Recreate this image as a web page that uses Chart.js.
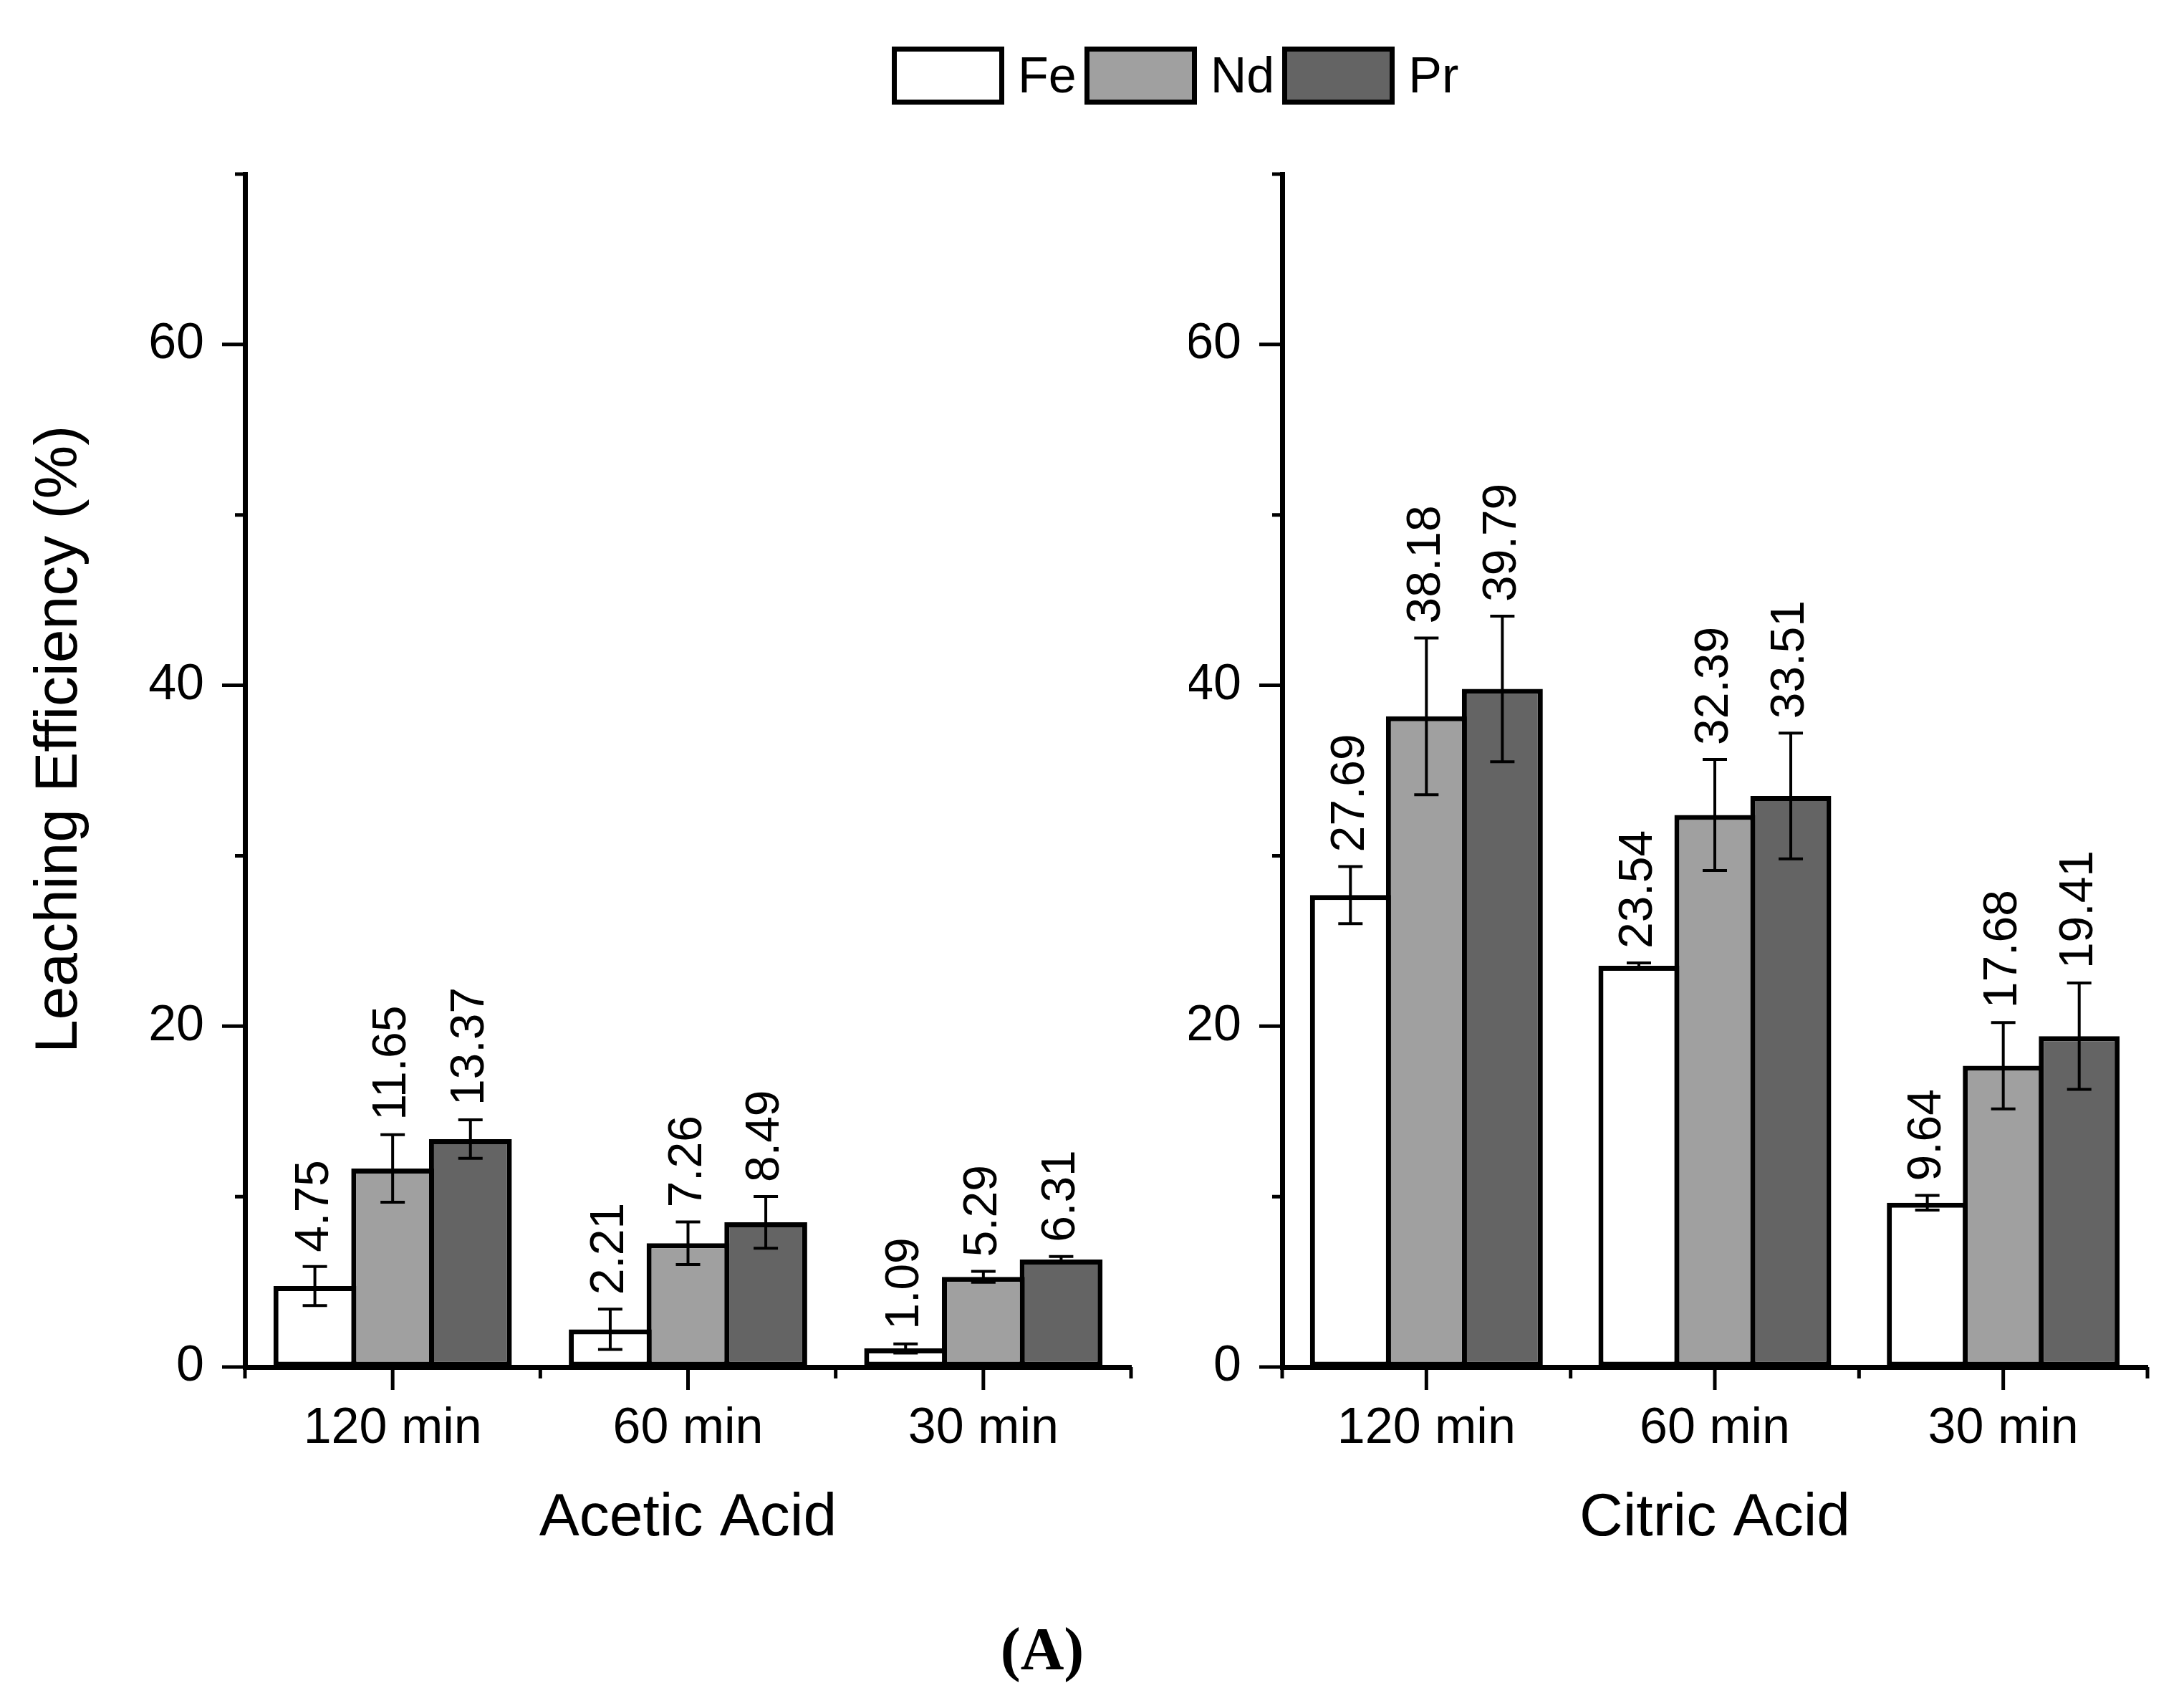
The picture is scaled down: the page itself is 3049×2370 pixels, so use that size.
<!DOCTYPE html>
<html>
<head>
<meta charset="utf-8">
<script src="https://cdn.jsdelivr.net/npm/chart.js@4.4.1/dist/chart.umd.min.js"></script>
<style>
  html, body { margin: 0; padding: 0; background: #fff; }
  body { width: 3049px; height: 2370px; position: relative; overflow: hidden; font-family: "Liberation Sans", Arial, sans-serif; }
  #chartLeft { position: absolute; left: 0; top: 0; }
  #chartRight { position: absolute; left: 1660px; top: 0; }
  #legend { position: absolute; left: 1245px; top: 65px; display: flex; align-items: center; }
  .legBox { width: 157px; height: 81px; box-sizing: border-box; border: 7px solid #000; margin-right: 19px; }
  .legText { font-size: 70px; line-height: 81px; margin-right: 11px; color: #000; }
  #panel { position: absolute; left: 1255px; top: 2260px; width: 400px; text-align: center; font: bold 84px/84px "Liberation Serif", "Times New Roman", serif; color: #000; }
</style>
</head>
<body>
<div id="legend"></div>
<canvas id="chartLeft" width="1660" height="2250"></canvas>
<canvas id="chartRight" width="1389" height="2250"></canvas>
<div id="panel">(A)</div>
<script>
// data
let categories  = ['120 min', '60 min', '30 min'];
let seriesNames = ['Fe', 'Nd', 'Pr'];

let aceticFe    = [4.75, 2.21, 1.09];
let aceticNd    = [11.65, 7.26, 5.29];
let aceticPr    = [13.37, 8.49, 6.31];
let aceticFeErr = [1.15, 1.18, 0.27];
let aceticNdErr = [1.98, 1.25, 0.32];
let aceticPrErr = [1.13, 1.52, 0.18];

let citricFe    = [27.69, 23.54, 9.64];
let citricNd    = [38.18, 32.39, 17.68];
let citricPr    = [39.79, 33.51, 19.41];
let citricFeErr = [1.68, 0.17, 0.43];
let citricNdErr = [4.60, 3.26, 2.53];
let citricPrErr = [4.27, 3.69, 3.12];

let yTitle = 'Leaching Efficiency (%)';

let Colors = ['#ffffff', '#a0a0a0', '#646464'];
let FONT = '"Liberation Sans", Arial, sans-serif';

Chart.defaults.font.family = FONT;
Chart.defaults.color = '#000';

// legend in html, it sits between the two panels
let legend = document.getElementById('legend');
seriesNames.forEach((name, i) => {
    let box = document.createElement('div');
    box.className = 'legBox';
    box.style.background = Colors[i];
    let txt = document.createElement('div');
    txt.className = 'legText';
    txt.textContent = name;
    legend.appendChild(box);
    legend.appendChild(txt);
});

// error bars + rotated value labels
const errorBars = {
    id: 'errorBars',
    afterDatasetsDraw(chart) {
        const ctx = chart.ctx;
        const y = chart.scales.y;
        ctx.save();
        chart.data.datasets.forEach((ds, di) => {
            const meta = chart.getDatasetMeta(di);
            meta.data.forEach((bar, i) => {
                const v = ds.data[i], e = ds.errors[i];
                const top = y.getPixelForValue(v + e);
                const bot = y.getPixelForValue(v - e);
                ctx.strokeStyle = '#000';
                ctx.lineWidth = 4;
                ctx.beginPath();
                ctx.moveTo(bar.x, top); ctx.lineTo(bar.x, bot);
                ctx.moveTo(bar.x - 17, top); ctx.lineTo(bar.x + 17, top);
                ctx.moveTo(bar.x - 17, bot); ctx.lineTo(bar.x + 17, bot);
                ctx.stroke();

                ctx.save();
                ctx.translate(bar.x, top - 20);
                ctx.rotate(-Math.PI / 2);
                ctx.font = '66px ' + FONT;
                ctx.fillStyle = '#000';
                ctx.textAlign = 'left';
                ctx.textBaseline = 'middle';
                ctx.fillText(v.toFixed(2), 0, 0);
                ctx.restore();
            });
        });
        ctx.restore();
    }
};

// major / minor tick marks outside the axes
const axisTicks = {
    id: 'axisTicks',
    afterDraw(chart) {
        const ctx = chart.ctx;
        const x = chart.scales.x, y = chart.scales.y;
        ctx.save();
        ctx.strokeStyle = '#000';
        ctx.lineWidth = 5;
        ctx.beginPath();
        y.ticks.forEach(t => {
            const py = y.getPixelForValue(t.value);
            const len = t.value % 20 === 0 ? 32 : 14;
            ctx.moveTo(y.right, py); ctx.lineTo(y.right - len, py);
        });
        let centers = x.ticks.map((t, i) => x.getPixelForTick(i));
        centers.forEach(px => { ctx.moveTo(px, x.top); ctx.lineTo(px, x.top + 32); });
        let bounds = [x.left];
        for (let i = 0; i < centers.length - 1; i++) bounds.push((centers[i] + centers[i + 1]) / 2);
        bounds.push(x.right);
        bounds.forEach(px => { ctx.moveTo(px, x.top); ctx.lineTo(px, x.top + 16); });
        ctx.stroke();
        ctx.restore();
    }
};

const sideTitle = {
    id: 'sideTitle',
    afterDraw(chart, args, opts) {
        if (!opts.text) return;
        const ctx = chart.ctx;
        ctx.save();
        ctx.translate(opts.x, opts.y);
        ctx.rotate(-Math.PI / 2);
        ctx.font = '84px ' + FONT;
        ctx.fillStyle = '#000';
        ctx.textAlign = 'center';
        ctx.textBaseline = 'alphabetic';
        ctx.fillText(opts.text, 0, 0);
        ctx.restore();
    }
};

function makeDataset(i, values, errors) {
    return {
        label: seriesNames[i],
        data: values,
        errors: errors,
        backgroundColor: Colors[i],
        borderColor: '#000',
        borderWidth: 7,
        borderSkipped: false,
        categoryPercentage: 0.79,
        barPercentage: 1.065
    };
}

function makeChart(id, datasets, xTitle, yWidth, padRight, titleOpts) {
    return new Chart(document.getElementById(id), {
        type: 'bar',
        data: { labels: categories, datasets: datasets },
        plugins: [errorBars, axisTicks, sideTitle],
        options: {
            responsive: false,
            animation: false,
            devicePixelRatio: 1,
            layout: { padding: { top: 243, right: padRight, bottom: 0, left: 0 } },
            plugins: {
                legend: { display: false },
                tooltip: { enabled: false },
                sideTitle: titleOpts
            },
            scales: {
                x: {
                    afterFit: s => { s.height = 342; },
                    grid: { display: true, drawOnChartArea: false, drawTicks: false, color: 'rgba(0,0,0,0)' },
                    border: { display: true, color: '#000', width: 7 },
                    ticks: { font: { size: 70 }, padding: 45, maxRotation: 0 },
                    title: { display: true, text: xTitle, font: { size: 84 }, padding: { top: 0, bottom: 80 } }
                },
                y: {
                    min: 0,
                    max: 70,
                    afterFit: s => { s.width = yWidth; },
                    grid: { display: true, drawOnChartArea: false, drawTicks: false, color: 'rgba(0,0,0,0)' },
                    border: { display: true, color: '#000', width: 7 },
                    ticks: {
                        stepSize: 10,
                        autoSkip: false,
                        font: { size: 70 },
                        padding: 57,
                        callback: v => (v % 20 === 0 ? v : '')
                    }
                }
            }
        }
    });
}

makeChart('chartLeft', [
    makeDataset(0, aceticFe, aceticFeErr),
    makeDataset(1, aceticNd, aceticNdErr),
    makeDataset(2, aceticPr, aceticPrErr)
], 'Acetic Acid', 342, 81, { text: yTitle, x: 107, y: 1032 });

makeChart('chartRight', [
    makeDataset(0, citricFe, citricFeErr),
    makeDataset(1, citricNd, citricNdErr),
    makeDataset(2, citricPr, citricPrErr)
], 'Citric Acid', 130, 51, { text: '' });
</script>
</body>
</html>
